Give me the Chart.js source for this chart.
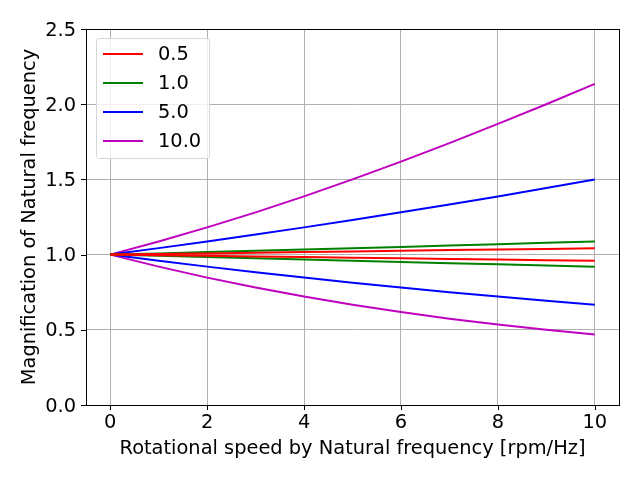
<!DOCTYPE html>
<html>
<head>
<meta charset="utf-8">
<script src="https://cdn.jsdelivr.net/npm/chart.js@4"></script>
<style>
  html, body { margin: 0; padding: 0; background: #fff; }
  #wrap { width: 640px; height: 480px; }
</style>
</head>
<body>
<div id="wrap"><canvas id="chart" width="640" height="480"></canvas></div>
<script>
// x positions (rotational speed / natural frequency)
const speeds = [0, 1, 2, 3, 4, 5, 6, 7, 8, 9, 10];

// legend labels and colours
const ratios = ['0.5', '1.0', '5.0', '10.0'];
const colors = ['#ff0000', '#008000', '#0000ff', '#bf00bf'];

// upper / lower branch for each ratio
const upper05 = [1.0, 1.004, 1.008, 1.013, 1.017, 1.021, 1.025, 1.030, 1.034, 1.038, 1.043];
const lower05 = [1.0, 0.996, 0.992, 0.988, 0.984, 0.979, 0.975, 0.971, 0.967, 0.963, 0.959];
const upper10 = [1.0, 1.008, 1.017, 1.025, 1.034, 1.043, 1.051, 1.060, 1.069, 1.078, 1.087];
const lower10 = [1.0, 0.992, 0.984, 0.975, 0.967, 0.959, 0.951, 0.943, 0.936, 0.928, 0.920];
const upper50 = [1.0, 1.043, 1.087, 1.133, 1.181, 1.230, 1.281, 1.333, 1.387, 1.443, 1.500];
const lower50 = [1.0, 0.959, 0.920, 0.883, 0.847, 0.813, 0.781, 0.750, 0.721, 0.693, 0.667];
const upper100 = [1.0, 1.087, 1.181, 1.281, 1.387, 1.500, 1.618, 1.741, 1.869, 2.000, 2.135];
const lower100 = [1.0, 0.920, 0.847, 0.781, 0.721, 0.667, 0.618, 0.574, 0.535, 0.500, 0.468];

const branches = [
    [upper05, lower05],
    [upper10, lower10],
    [upper50, lower50],
    [upper100, lower100]
];

const xTicks = [0, 2, 4, 6, 8, 10];
const FONT = '"DejaVu Sans", sans-serif';
const FSIZE = 19.4;

const datasets = [];
branches.forEach((pair, i) => {
    pair.forEach((vals, j) => {
        datasets.push({
            label: ratios[i],
            data: vals.map((v, k) => ({ x: speeds[k], y: v })),
            borderColor: colors[i],
            borderWidth: 2,
            pointRadius: 0,
            tension: 0,
            fill: false
        });
    });
});

// box, black tick marks and legend drawn like matplotlib
const framePlugin = {
    id: 'frame',
    afterDraw(chart) {
        const ctx = chart.ctx;
        const a = chart.chartArea;
        const xs = chart.scales.x, ys = chart.scales.y;
        ctx.save();
        ctx.strokeStyle = '#000';
        ctx.lineWidth = 1;
        ctx.beginPath();
        xTicks.forEach(t => {
            const px = Math.round(xs.getPixelForValue(t)) + 0.5;
            ctx.moveTo(px, a.bottom);
            ctx.lineTo(px, a.bottom + 5);
        });
        ys.ticks.forEach(t => {
            const py = Math.round(ys.getPixelForValue(t.value)) + 0.5;
            ctx.moveTo(a.left, py);
            ctx.lineTo(a.left - 5, py);
        });
        ctx.stroke();
        ctx.strokeRect(Math.round(a.left) + 0.5, Math.round(a.top) + 0.5,
            Math.round(a.right - a.left), Math.round(a.bottom - a.top));

        // legend
        const lx = a.left + 10, ly = a.top + 9, lw = 113, lh = 120;
        ctx.beginPath();
        ctx.roundRect(lx + 0.5, ly + 0.5, lw, lh, 3);
        ctx.fillStyle = 'rgba(255,255,255,0.8)';
        ctx.fill();
        ctx.strokeStyle = '#d6d6d6';
        ctx.stroke();
        ctx.font = FSIZE + 'px ' + FONT;
        ctx.textBaseline = 'middle';
        ctx.textAlign = 'left';
        ratios.forEach((r, i) => {
            const y = ly + 16 + i * 29;
            ctx.strokeStyle = colors[i];
            ctx.lineWidth = 2;
            ctx.beginPath();
            ctx.moveTo(lx + 7, y);
            ctx.lineTo(lx + 47, y);
            ctx.stroke();
            ctx.fillStyle = '#000';
            ctx.fillText(r, lx + 62, y + 1);
        });
        ctx.restore();
    }
};

new Chart(document.getElementById('chart'), {
    type: 'line',
    data: { datasets: datasets },
    plugins: [framePlugin],
    options: {
        responsive: false,
        animation: false,
        layout: { padding: { left: 0, right: 21, top: 29, bottom: 0 } },
        plugins: {
            legend: { display: false },
            tooltip: { enabled: false }
        },
        scales: {
            x: {
                type: 'linear',
                min: -0.5,
                max: 10.5,
                afterBuildTicks: s => { s.ticks = xTicks.map(v => ({ value: v })); },
                afterFit: s => { s.height = 75; },
                grid: { color: '#b0b0b0', drawTicks: false },
                border: { display: false },
                ticks: {
                    color: '#000',
                    padding: 6,
                    maxRotation: 0,
                    font: { family: FONT, size: FSIZE },
                    callback: v => String(v)
                },
                title: {
                    display: true,
                    text: 'Rotational speed by Natural frequency [rpm/Hz]',
                    color: '#000',
                    padding: { top: 0, bottom: 19 },
                    font: { family: FONT, size: FSIZE }
                }
            },
            y: {
                min: 0,
                max: 2.5,
                afterFit: s => { s.width = 86; },
                grid: { color: '#b0b0b0', drawTicks: false },
                border: { display: false },
                ticks: {
                    color: '#000',
                    stepSize: 0.5,
                    padding: 10,
                    labelOffset: 1.5,
                    font: { family: FONT, size: FSIZE },
                    callback: v => v.toFixed(1)
                },
                title: {
                    display: true,
                    text: 'Magnification of Natural frequency',
                    color: '#000',
                    padding: { top: 18, bottom: 0 },
                    font: { family: FONT, size: FSIZE }
                }
            }
        }
    }
});
</script>
</body>
</html>
